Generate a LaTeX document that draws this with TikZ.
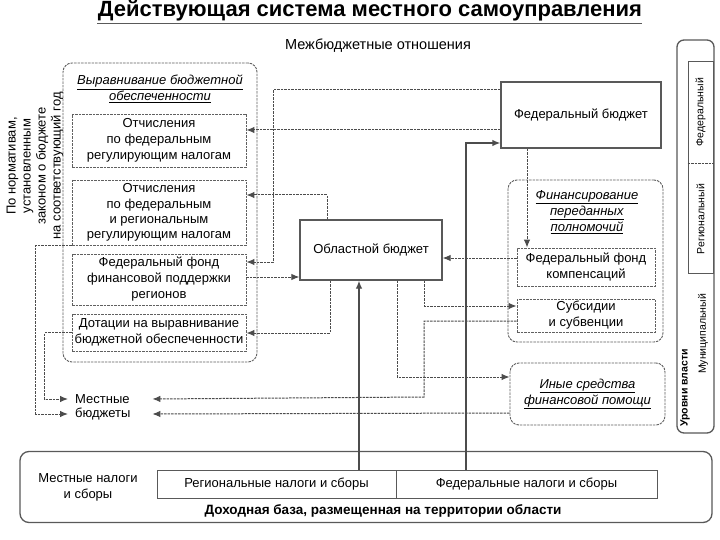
\documentclass[tikz,border=0pt]{standalone}
\usepackage{fontspec}
\setmainfont{Liberation Sans}
\usepackage{tikz}
\usetikzlibrary{arrows.meta}

\newcommand{\txt}{\fontsize{13}{16}\selectfont}
\newcommand{\hd}[1]{\underline{\textit{#1}}}

\begin{document}
\begin{tikzpicture}[x=1pt, y=-1pt, >={Latex[length=8pt,width=6.5pt]},
  every node/.style={align=center, font=\txt, inner sep=1pt},
  dbox/.style={draw=gray!75!black, dash pattern=on 2.5pt off 1pt, line width=0.9pt},
  grp/.style={dbox, rounded corners=9pt},
  sbox/.style={draw=gray!70!black, line width=1.3pt},
  con/.style={gray!60!black, dash pattern=on 2.5pt off 1pt, line width=1pt},
  sol/.style={gray!60!black, line width=1.3pt}]
  \useasboundingbox[fill=white] (0,0) rectangle (720,540);

  % title
  \node (title) at (370,11) {\fontsize{22}{24}\selectfont\bfseries Действующая система местного самоуправления};
  \draw[gray!70!black, line width=1pt] (97,24) -- (642,24);
  \node (mbo) at (378,46) {\fontsize{14.5}{16}\selectfont Межбюджетные отношения};

  % left group
  \node[grp, minimum width=194, minimum height=299] (vyr) at (160,212.5) {};
  \node (vyrh) at (160,89) {\hd{Выравнивание бюджетной}\\\hd{обеспеченности}};
  \node[dbox, minimum width=174, minimum height=53] (b1) at (159,140.5)
    {Отчисления\\по федеральным\\регулирующим налогам};
  \node[dbox, minimum width=174, minimum height=65, font=\fontsize{13}{15.3}\selectfont] (b2) at (159,212.5)
    {Отчисления\\по федеральным\\и региональным\\регулирующим налогам};
  \node[dbox, minimum width=174, minimum height=51] (b3) at (159,279.5)
    {Федеральный фонд\\финансовой поддержки\\регионов};
  \node[dbox, minimum width=174, minimum height=37] (b4) at (159,332.5)
    {Дотации на выравнивание\\бюджетной обеспеченности};

  \node[rotate=90, font=\fontsize{13}{15}\selectfont] (norm) at (35,166)
    {По нормативам,\\установленным\\законом о бюджете\\на соответствующий год};

  % budgets
  \node[sbox, minimum width=160, minimum height=66] (fed) at (581,115) {Федеральный бюджет};
  \node[sbox, minimum width=142, minimum height=60] (obl) at (371,250) {Областной бюджет};

  % right group
  \node[grp, minimum width=155, minimum height=162] (fin) at (585.5,261) {};
  \node (finh) at (587,212) {\hd{Финансирование}\\\hd{переданных}\\\hd{полномочий}};
  \node[dbox, minimum width=138, minimum height=38] (fk) at (586,267)
    {Федеральный фонд\\компенсаций};
  \node[dbox, minimum width=138, minimum height=33] (sub) at (586,315.5)
    {Субсидии\\и субвенции};
  \node[grp, minimum width=155, minimum height=62] (inye) at (587.5,394)
    {\hd{Иные средства}\\\hd{финансовой помощи}};

  % local budgets
  \node[anchor=west, text width=70, inner xsep=7pt, align=left] (mest) at (68,399) {Местные};
  \node[anchor=west, text width=70, inner xsep=7pt, align=left] (budg) at (68,414) {бюджеты};

  % revenue base
  \node[draw=gray!70!black, line width=1.3pt, rounded corners=9pt,
    minimum width=692, minimum height=71] (base) at (366,487) {};
  \node (mn) at (88,487) {Местные налоги\\и сборы};
  \node[sbox, line width=1pt, minimum width=239, minimum height=28] (reg) at (276.5,484)
    {Региональные налоги и сборы};
  \node[sbox, line width=1pt, minimum width=261, minimum height=28] (fedn) at (526.5,484)
    {Федеральные налоги и сборы};
  \node (doh) at (383,511) {\fontsize{13.5}{15}\selectfont\bfseries Доходная база, размещенная на территории области};

  % levels of power
  \node[sbox, rounded corners=7pt, minimum width=37, minimum height=393] (lev) at (695.5,236.5) {};
  \node[sbox, line width=1pt, minimum width=25, minimum height=211] (rf) at (700.5,167.5) {};
  \draw[con, line width=0.8pt] (rf.west |- 0,163) -- (rf.east |- 0,163);
  \node[rotate=90, font=\fontsize{10.5}{12}\selectfont] (fdl) at (700.5,112) {Федеральный};
  \node[rotate=90, font=\fontsize{10.5}{12}\selectfont] (rgl) at (700.5,219) {Региональный};
  \node[rotate=90, font=\fontsize{10.5}{12}\selectfont\bfseries] (urv) at (685,388) {Уровни власти};
  \node[rotate=90, font=\fontsize{10.5}{12}\selectfont] (mun) at (703,334) {Муниципальный};

  % connectors
  \draw[con,->] (fed.west |- 0,130) -- (b1.east |- 0,130);
  \draw[con,->] (fed.west |- 0,90) -| (273,262) -- (b3.east |- 0,262);
  \draw[con,->] (obl.north -| 327,0) |- (b2.east |- 0,195);
  \draw[con,->] (b3.east |- 0,277) -- (obl.west |- 0,277);
  \draw[con,->] (obl.south -| 330,0) |- (b4.east |- 0,333);
  \draw[con,->] (fed.south -| 527,0) -- (fk.north -| 527,0);
  \draw[con,->] (fk.west |- 0,258) -- (obl.east |- 0,258);
  \draw[con,->] (obl.south -| 424,0) |- (sub.west |- 0,306);
  \draw[con,->] (sub.west |- 0,321) -| (424,397) -- (mest.east);
  \draw[con,->] (obl.south -| 397,0) |- (inye.west |- 0,377);
  \draw[con,->] (inye.west |- 0,413) -- (budg.east);
  \draw[con,->] (b2.south west) -- ++(-36,0) |- (budg.west);
  \draw[con,->] (b4.west) -- ++(-27,0) |- (mest.west);
  \draw[sol,->] (reg.north -| 359,0) -- (obl.south -| 359,0);
  \draw[sol,->] (fedn.north -| 466,0) |- (fed.west |- 0,143);
\end{tikzpicture}
\end{document}
